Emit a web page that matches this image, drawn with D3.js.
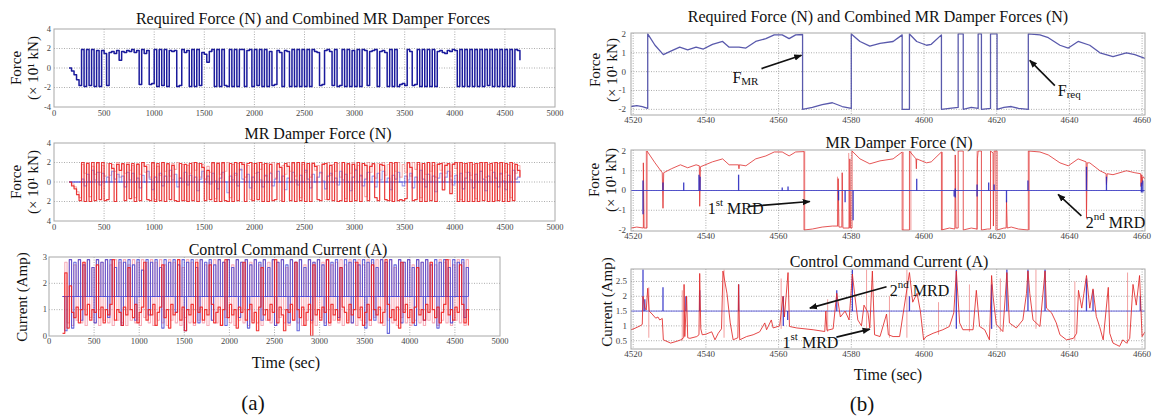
<!DOCTYPE html>
<html>
<head>
<meta charset="utf-8">
<title>MR damper forces and control current</title>
<script src="https://cdn.jsdelivr.net/npm/d3@7"></script>
<style>
  body { margin: 0; background: #fff; }
  svg, svg text { font-family: "Liberation Serif", "DejaVu Serif", serif; }
  svg text { fill: #111; }
  svg text.tick-label { fill: #444; }
</style>
</head>
<body>
<svg id="chart" width="1153" height="419" font-family="Liberation Serif, DejaVu Serif, serif"></svg>
<script>
// ---------- (a) whole record, one sample every 25 s from t = 150 s ----------
const aStart = 150, aStep = 25;
// required / combined force (x 10 kN)
const aForce = [
  0,-0.3,-0.7,-1.2,-1.8, 1.9,-1.9,1.9,-1.8,1.9, -1.9,1.8,-1.9,1.8,1.5, -1.8,1.6,1.7,1.5,1.8,
  0.8,1.7,1.6,1.8,1.7, 1.9,1.6,1.8,-1.7,1.9, 1.5,1.8,-1.7,-1.6,1.9, -1.9,1.9,-1.8,1.9,-1.9,
  1.8,1.7,1.8,-1.9,-1.8, 1.9,1.6,1.8,-1.9,1.9, -1.9,1.9,-1.8,1.6,1.4, 0.6,1.7,1.9,-1.9,1.9,
  -1.9,1.9,-1.8,-1.9,1.9, -1.9,1.9,-1.9,1.9,1.9, -1.9,1.8,1.9,-1.9,1.9, -1.8,1.9,-1.9,1.9,-1.9,
  1.7,-1.8,-1.7,1.8,1.6, -1.9,1.8,1.7,-1.9,1.9, -1.9,1.9,-1.9,1.9,-1.9, 1.9,-1.9,1.9,1.7,1.6,
  -1.8,-1.7,1.8,1.9,1.7, -1.8,1.9,-1.9,-1.8,1.9, -1.9,1.9,-1.9,1.8,-1.9, 1.9,-1.9,1.9,1.8,-1.8,
  1.7,1.8,1.9,-1.9,1.7, 1.8,1.6,-1.9,1.9,-1.9, 1.9,-1.9,-1.7,-1.6,-1.8, 1.9,1.7,-1.8,-1.7,1.9,
  -1.9,1.9,-1.9,1.9,-1.9, 1.9,-1.9,1.7,1.8,1.6, 1.5,1.8,1.7,1.9,1.8, -1.9,1.9,-1.9,1.9,-1.9,
  1.9,-1.9,1.9,-1.9,1.9, -1.9,1.9,-1.8,1.9,-1.9, 1.9,-1.9,1.9,-1.9,1.9, -1.9,1.9,-1.9,1.9,1.8,
  0.8
];
// MR damper forces: 1st damper (red), 2nd damper (light red), residual (blue)
const aMrd1 = [
  0,-0.4,-0.7,-1.3,-1.9, 2,-2,1.9,-2,2, -1.9,2,-1.8,2,-1.9, -1.8,1.9,1.4,-2,1.8,
  1.2,1.9,-1.9,1.8,-1.7, 1.9,-2,1.8,-1.9,2, 1.6,-1.8,-1.9,2,-2, 1.9,-1.9,2,-2,1.9,
  -1.8,1.7,-1.9,-2,1.9, -1.9,1.8,-2,1.9,-1.9, 2,-2,1.9,1.5,-1.9, 1.2,-1.8,2,-2,1.9,
  -2,2,-1.9,-2,1.9, -2,2,-1.9,2,1.8, -2,1.9,2,-1.9,1.9, -1.8,2,-2,1.9,-2,
  1.8,-1.9,-1.8,1.9,1.5, -2,1.9,1.6,-1.9,2, -2,2,-1.9,2,-2, 1.9,-2,1.9,1.6,-1.8,
  -1.9,1.8,1.9,-1.8,1.7, -1.9,2,-2,-1.9,2, -2,1.9,-2,1.8,-1.9, 2,-2,1.9,1.7,-1.9,
  1.6,1.9,-1.6,-1.9,1.8, 1.7,-1.8,-1.9,2,-2, 2,-1.9,-1.8,-1.9,-1.7, 2,1.5,-1.9,-1.8,2,
  -2,1.9,-2,2,-1.9, 2,-2,1.8,1.9,-0.8, 1.7,1.9,-1.2,1.8,2, -2,2,-2,1.9,-2,
  2,-2,1.9,-2,2, -1.9,2,-2,1.9,-2, 2,-1.9,2,-2,1.9, -2,2,-1.9,1.8,1.2,
  0.5
];
const aMrd2 = [
  0,-0.2,-0.5,-1.0,-1.6, 1.8,0.9,2,-1.5,1.6, 0.8,1.9,1.0,1.7,0.6, 1.9,0.7,1.8,1.1,2,
  0.5,1.8,0.9,2,1.2, 1.7,-1.6,1.9,0.8,2, 1.0,1.8,0.5,1.9,-1.8, 1.6,0.7,2,1.1,1.8,
  0.6,1.9,1.3,2,0.4, 1.8,-1.9,1.7,0.9,2, 1.2,1.9,0.5,1.8,0.3, 1.6,1.0,1.9,-1.7,2,
  0.8,1.9,1.1,2,-1.6, 1.8,0.7,1.9,1.2,2, 0.5,1.7,-1.8,1.9,0.9, 2,1.3,1.8,0.6,1.9,
  1.0,2,0.4,1.8,-1.9, 1.7,0.8,2,1.1,1.9, 0.6,2,-1.6,1.8,1.0, 1.9,0.5,2,1.2,1.7,
  0.9,1.9,-1.8,2,0.7, 1.8,1.1,1.9,0.5,2, -1.7,1.8,0.9,2,1.3, 1.7,0.6,1.9,-1.5,2,
  1.0,1.8,0.4,1.9,1.2, 2,0.7,1.8,-1.9,1.9, 1.1,2,0.5,1.8,1.0, 1.9,0.6,2,1.3,1.8,
  -1.6,1.9,0.8,2,1.1, 1.7,0.5,1.9,1.2,2, 0.9,1.8,0.6,1.9,1.4, 2,-1.8,1.9,1.0,2,
  0.7,1.8,-1.7,1.9,1.1, 2,0.5,1.8,1.2,2, -1.9,1.9,0.8,2,1.0, 1.8,-1.6,1.9,0.9,1.7,
  0.6
];
const aMrdBlue = [
  0,0,0,0,0, 0.3,-0.4,0.8,0,1.2, 0.2,1.0,-0.3,0.9,0, 0.5,0,1.1,0.3,0.8,
  0,0.6,-0.5,1.0,0.2, 0.9,0,0.4,-0.6,0.7, 0,1.1,0.3,-0.8,0.5, 0,0.9,-0.4,0.6,0,
  1.2,0.2,0.8,-0.5,0.4, 0,1.0,-0.3,0.7,0, 0.5,-0.9,0.3,1.1,0, 0.6,-0.2,0.9,0.1,-0.7,
  0.4,1.0,0,-1.1,0.6, 0.2,0.9,-0.4,1.3,0.3, 0,0.8,-0.6,0.5,0, 1.0,0.2,-0.5,0.7,0,
  0.9,-0.4,0.3,1.1,0, 0.6,-0.8,0.4,0,1.0, 0.2,-0.3,0.7,0,1.2, 0.3,-0.6,0.8,0,0.5,
  1.0,0.1,-0.7,0.6,0.9, 0,0.4,-0.3,1.1,0.2, 0.8,0,-0.9,0.5,1.2, 0,0.7,-0.4,0.3,1.0,
  0,0.6,-0.5,0.9,0.2, 1.1,0,0.4,-0.8,0.7, 0.3,1.0,0,-0.4,0.6, 0.2,0.9,-0.6,0.5,0,
  1.2,0.3,-0.5,0.8,0, 0.6,-1.0,0.4,0.9,0, 0.5,1.1,0.2,-0.3,0.7, 0,0.9,-0.7,0.4,1.0,
  0.2,-0.6,0.8,0,1.1, 0.3,-0.9,0.6,0,1.0, 0.4,-0.5,0.9,0.1,-0.8, 0.7,0,1.2,0.3,0.5,
  0.4
];
const aMrdBlueBase = 0;
// control command current (A)
const aCur1 = [
  0.1,2.4,0.3,1.9,0.9, 0.7,1.1,0.5,1.0,2.8, 0.8,1.2,0.6,1.0,0.9, 2.7,0.7,1.1,0.5,1.0,
  0.8,1.2,2.9,0.6,1.0, 0.9,0.4,1.1,0.8,2.6, 1.0,0.7,1.2,0.5,0.9, 1.1,2.8,0.6,1.0,0.8,
  1.2,0.4,0.9,1.1,2.7, 0.7,1.0,0.3,1.2,0.8, 0.9,2.9,0.6,1.1,0.2, 1.0,0.8,1.2,0.5,2.8,
  0.9,1.1,0.6,1.0,0.8, 2.7,1.2,0.5,0.9,1.1, 0.4,1.0,2.9,0.7,1.2, 0.8,1.0,0.3,1.1,0.9,
  2.8,0.6,1.0,1.2,0.5, 0.9,0.2,1.1,2.6,0.8, 1.0,0.6,1.2,0.9,2.9, 0.5,1.1,0.8,0.2,1.0,
  0.9,1.2,0.6,2.8,1.0, 0.7,1.1,0.4,0.9,1.2, 0.0,2.7,0.8,1.0,0.6, 1.1,0.9,2.9,0.5,1.2,
  0.8,1.0,0.6,2.6,1.1, 0.9,0.5,1.2,0.8,1.0, 2.8,0.7,1.1,0.4,0.9, 1.2,0.6,2.7,1.0,0.8,
  1.1,0.5,0.9,2.9,1.2, 0.7,1.0,0.6,1.1,0.3, 2.8,0.9,1.2,0.7,1.0, 0.5,1.1,2.6,0.8,1.0,
  0.6,1.2,0.9,2.8,1.0, 0.7,1.1,0.5,0.9,1.2, 2.9,0.8,1.0,0.6,1.1, 0.9,2.7,1.2,0.5,1.0,
  0.4
];
const aCur2 = [
  1.5,2.8,0.5,2.9,0.4, 2.7,0.6,2.9,0.5,2.8, 0.4,2.9,0.7,2.6,0.5, 2.9,0.4,2.8,0.6,2.9,
  0.5,2.7,0.4,2.9,0.6, 2.8,0.5,2.9,0.4,2.7, 0.6,2.9,0.5,2.8,0.4, 2.9,0.7,2.8,0.5,2.9,
  0.4,2.8,0.6,2.9,0.5, 2.7,0.4,2.9,0.6,2.8, 0.5,2.9,0.4,2.6,0.7, 2.9,0.5,2.8,0.4,2.9,
  0.6,2.9,0.5,2.7,0.4, 2.8,0.6,2.9,0.5,2.9, 0.4,2.8,0.7,2.9,0.5, 2.7,0.4,2.9,0.6,2.8,
  0.5,2.9,0.4,2.8,0.6, 2.9,0.5,2.7,0.4,2.9, 0.6,2.8,0.5,2.9,0.4, 2.8,0.7,2.9,0.5,2.6,
  0.4,2.9,0.6,2.8,0.5, 2.9,0.4,2.7,0.6,2.9, 0.5,2.8,0.4,2.9,0.7, 2.8,0.5,2.9,0.4,2.7,
  0.6,2.8,0.5,2.9,0.4, 2.7,0.6,2.9,0.5,2.8, 0.4,2.9,0.6,2.7,0.5, 2.9,0.4,2.8,0.7,2.9,
  0.5,2.9,0.4,2.8,0.6, 2.9,0.5,2.6,0.4,2.9, 0.7,2.8,0.5,2.9,0.4, 2.7,0.6,2.9,0.5,2.8,
  0.4,2.9,0.6,2.8,0.5, 2.7,0.4,2.9,0.6,2.8, 0.5,2.9,0.4,2.7,0.6, 2.9,0.5,2.8,0.4,2.9,
  0.6
];
const aCurBlue = [
  1.5,0.2,1.5,2.9,0.3, 2.8,1.5,2.9,0.6,2.7, 1.5,2.9,1.5,2.6,0.5, 2.9,1.5,2.8,1.5,2.9,
  0.7,2.9,1.5,2.6,1.5, 2.9,0.4,2.8,1.5,2.9, 1.5,2.7,0.6,2.9,1.5, 2.5,1.5,2.9,0.8,2.8,
  1.5,2.9,1.5,2.6,0.3, 2.9,1.5,2.8,1.5,2.9, 0.9,2.7,1.5,2.9,0.2, 2.8,1.5,2.9,1.5,2.6,
  0.5,2.9,1.5,2.8,1.5, 2.9,0.6,2.7,1.5,2.9, 1.5,2.8,0.4,2.9,1.5, 2.6,1.5,2.9,0.7,2.8,
  1.5,2.9,0.3,2.7,1.5, 2.9,1.5,2.8,0.6,2.9, 1.5,2.6,1.5,2.9,0.4, 2.8,1.5,2.9,1.5,2.7,
  0.5,2.9,1.5,2.8,0.2, 2.9,1.5,2.6,1.5,2.9, 0.6,2.8,1.5,2.9,1.5, 2.7,0.4,2.9,1.5,2.8,
  1.5,2.9,0.7,2.6,1.5, 2.9,1.5,2.8,0.5,2.9, 1.5,2.7,1.5,2.9,0.3, 2.8,1.5,2.9,0.6,2.6,
  1.5,2.9,1.5,2.8,0.1, 2.9,1.5,2.7,1.5,2.9, 0.5,2.8,1.5,2.9,1.5, 2.6,0.4,2.9,1.5,2.8,
  0.6,2.9,1.5,2.7,1.5, 2.9,0.3,2.8,1.5,2.9, 1.5,2.6,0.5,2.9,1.5, 2.8,1.5,2.9,0.7,2.6,
  1.5
];
const aCurBlueBase = 1.5;
const aTimeTicks = [0, 500, 1000, 1500, 2000, 2500, 3000, 3500, 4000, 4500, 5000];
const aForceTicks = [-4, -2, 0, 2, 4];
const aForceTopLabels = ["-4", "-2", "0", "2", "4"];
const aForceMidLabels = ["4", "2", "0", "2", "4"];
const aCurTicks = [0, 1, 2, 3];

// ---------- (b) close-up, 4520-4660 s ----------
// [time, force]
const bForce = [
  [4519.4,-1.85],[4521,-1.8],[4522.5,-1.85],[4524,-1.95],[4524,2.0],[4526,1.4],[4528.3,0.9],
  [4530.5,1.1],[4532.8,1.3],[4535,1.15],[4537.3,1.3],[4539.3,1.2],[4541.8,1.45],[4544.6,1.6],
  [4546.4,1.3],[4549.1,1.3],[4551,1.25],[4553.7,1.6],[4556.5,1.75],[4558.8,1.95],[4561,1.95],
  [4562.9,1.75],[4564.7,1.95],[4566.6,1.97],[4566.6,-2.0],[4569.3,-1.9],[4572,-1.75],
  [4574.8,-1.65],[4577.5,-1.85],[4580,-1.95],[4580,2.0],[4582.4,1.6],[4585.1,1.35],
  [4587.9,1.5],[4591.5,1.6],[4594,1.95],[4594,-2.0],[4596,-2.0],[4596,2.0],[4598,1.6],
  [4600.7,1.4],[4602,1.45],[4604.8,1.95],[4604.8,-2.0],[4607,-1.95],[4609.4,-1.9],
  [4609.4,2.0],[4610.8,2.0],[4610.8,-2.0],[4613,-1.9],[4614.9,-1.95],[4614.9,2.0],
  [4615.8,2.0],[4615.8,-2.0],[4618.3,-1.95],[4618.3,2.0],[4620.1,2.0],[4620.1,-2.0],
  [4622,-1.9],[4624,-1.85],[4626,-1.95],[4628.7,-2.0],[4628.7,2.0],[4631.9,1.95],
  [4634.2,1.8],[4637.4,1.4],[4639.7,1.25],[4642.4,1.6],[4645.6,1.4],[4648.4,1.0],
  [4652,0.8],[4655.7,1.0],[4658,0.9],[4660.8,0.7]
];
// 1st MRD force [time, force]
const bMrd1 = [
  [4519.4,-1.9],[4521,-1.85],[4522.8,-1.9],[4522.8,1.4],[4523,-1.9],[4523.8,-1.9],[4523.8,2.0],
  [4526,1.4],[4528,0.9],[4528.2,-0.9],[4528.4,0.9],[4530.5,1.1],[4533,1.3],[4535,1.15],
  [4537.3,1.3],[4538.2,1.25],[4538.3,-0.8],[4538.5,1.2],[4541.8,1.45],[4544.6,1.6],
  [4546.4,1.3],[4549,1.3],[4549.1,1.1],[4549.2,1.3],[4551,1.25],[4553.7,1.6],[4556.5,1.75],
  [4558.8,1.95],[4561,1.95],[4562.9,1.75],[4564.7,1.95],[4567,1.97],[4567,-2.0],
  [4569.3,-1.95],[4572,-1.85],[4574.8,-1.8],[4576.3,-1.8],[4576.4,0.6],[4576.6,-1.85],
  [4577.4,-1.85],[4577.5,0.9],[4577.7,-1.9],[4579.5,-1.9],[4579.6,1.6],[4579.8,-1.9],
  [4580.2,-1.9],[4580.2,2.0],[4582.4,1.6],[4585.1,1.35],[4587.9,1.5],[4591.5,1.6],
  [4594,1.95],[4594,-2.0],[4596,-2.0],[4596,2.0],[4597.8,1.6],[4597.9,1.1],[4598,1.6],
  [4600.7,1.4],[4602,1.45],[4604.8,1.95],[4604.8,-2.0],[4607,-1.9],[4608.5,-1.95],
  [4608.6,1.8],[4608.8,-1.9],[4609.4,-1.9],[4609.4,2.0],[4610.8,2.0],[4610.8,-2.0],
  [4613,-1.9],[4614.6,-1.95],[4614.7,1.6],[4614.9,2.0],[4615.8,2.0],[4615.8,-2.0],
  [4617.5,-1.95],[4618.3,-1.95],[4618.3,2.0],[4619,1.9],[4619.1,-1.8],[4619.3,2.0],
  [4620.1,2.0],[4620.1,-2.0],[4622,-1.9],[4622.6,-1.9],[4622.7,-0.5],[4622.9,-1.9],
  [4624,-1.85],[4626,-1.95],[4628.7,-2.0],[4628.7,2.0],[4631.9,1.95],[4634.2,1.8],
  [4637.4,1.4],[4639.7,1.25],[4642.4,1.6],[4644.6,1.45],[4644.7,-1.4],[4644.9,1.4],
  [4645.6,1.4],[4648.4,1.0],[4650.1,0.85],[4650.2,0.3],[4650.4,0.85],[4652,0.8],
  [4655.7,1.0],[4658,0.9],[4659.6,0.85],[4659.7,0.2],[4659.9,0.8],[4660,0.3],[4660.2,0.7],
  [4660.8,0.6]
];
// 2nd MRD switching lines [time, low, high]
const bMrd2 = [
  [4523.6,-1.9,2.0],[4567.2,-2.0,2.0],[4576.2,-1.8,0.7],[4579.3,-1.9,1.9],[4594.3,-2.0,1.95],
  [4596.4,-2.0,2.0],[4605.1,-2.0,1.95],[4614.6,-2.0,2.0],[4619.7,-2.0,2.0],[4629,-2.0,2.0]
];
// residual force (blue) [time, low, high] on a zero base
const bMrdBlue = [
  [4522.7,-1.2,0.5],[4528.2,0,0.4],[4533.9,0,0.4],[4538.1,0,0.8],[4538.4,0,0.7],[4549,0,0.8],
  [4561,0,0.15],[4562.6,0,0.2],[4576.5,-0.5,0],[4578.3,-0.6,0],[4580.5,-1.5,0],[4598,0,0.6],
  [4608.3,-0.3,0],[4608.6,-0.35,0.1],[4614.6,-0.3,0.3],[4617.8,0,0.4],[4619.3,0,0.3],
  [4622.7,-0.6,0],[4628.6,0,0.5],[4644.7,0,1.2],[4650.2,0,0.7],[4659.8,-0.1,0.4],[4660.2,-0.1,0.5]
];
const bMrdBlueBase = 0;
// 1st MRD current [time, amp]
const bCur1 = [
  [4519.4,0.87],[4520.5,0.92],[4521.9,1.0],[4522.5,1.05],[4522.7,2.0],[4523.2,1.6],[4523.6,1.54],
  [4524,2.27],[4524.4,1.5],[4525.2,1.4],[4526.2,1.26],[4526.8,1.3],[4527.3,1.2],[4528,1.25],
  [4528.3,0.53],[4530.3,0.42],[4532,0.48],[4533.1,0.53],[4533.9,0.6],[4534,2.4],[4534.2,0.64],
  [4534.7,2.0],[4535,0.6],[4535.6,0.58],[4537.5,0.64],[4538.1,0.7],[4538.3,2.77],[4538.6,0.9],
  [4539,0.7],[4540,0.72],[4541.6,0.8],[4542.5,0.53],[4543.4,0.75],[4544.3,0.9],[4544.7,2.85],
  [4545.8,2.1],[4546.7,1.1],[4547.5,0.53],[4548.8,0.6],[4549,2.4],[4549.3,0.53],[4551.2,0.64],
  [4553,0.7],[4554.8,0.8],[4556.2,1.1],[4556.7,0.87],[4558,1.2],[4558.5,0.93],[4560.3,1.0],
  [4561.2,2.0],[4561.6,1.3],[4562.6,2.8],[4563,0.98],[4565,0.93],[4569.5,0.87],[4572.7,0.81],
  [4573,1.5],[4573.3,0.85],[4575,0.9],[4576,2.1],[4577,1.3],[4578.3,1.5],[4579.4,1.2],
  [4580.3,2.75],[4580.9,2.1],[4581.8,1.2],[4582.8,1.0],[4583.5,1.7],[4584.6,1.44],[4585.1,0.93],
  [4585.8,2.85],[4586.4,0.7],[4587.9,0.64],[4589.7,1.4],[4590.2,0.7],[4591.5,0.64],[4593.3,0.64],
  [4596,2.8],[4596.9,1.8],[4598.1,2.1],[4599,1.5],[4599.9,0.53],[4600.6,0.64],[4602.5,0.75],
  [4605.2,0.87],[4607,0.98],[4608.2,1.44],[4608.9,2.85],[4609.8,1.1],[4610.7,0.87],[4613.5,0.87],
  [4614.4,2.2],[4615.3,0.98],[4616.7,0.87],[4618,0.53],[4618.6,2.7],[4619,2.0],[4619.9,1.05],
  [4621.7,0.81],[4622.8,2.8],[4623.5,1.1],[4625.4,0.93],[4627.2,1.2],[4628.2,2.1],[4628.6,2.85],
  [4629.1,2.1],[4630,1.2],[4631.9,0.98],[4633.3,2.85],[4633.7,1.6],[4635.1,1.44],[4636.4,1.1],
  [4637.4,0.7],[4639.2,0.53],[4641.1,0.58],[4642,0.75],[4642.5,2.2],[4643.4,1.6],[4644,2.1],
  [4644.7,2.7],[4645.6,1.6],[4646.5,2.25],[4647.4,1.32],[4648.3,0.98],[4649.3,0.53],[4650.7,2.3],
  [4651.1,0.75],[4652,0.42],[4653.8,0.31],[4654.7,0.53],[4655.7,0.42],[4656.6,0.58],[4657.5,2.4],
  [4658.4,1.7],[4659.3,2.7],[4660,0.64],[4660.8,0.8]
];
// 2nd MRD current switching lines [time, low, high]
const bCur2 = [
  [4524.3,0.6,2.3],[4533.5,0.5,2.2],[4545,0.6,2.9],[4560.7,0.9,2.6],[4573.5,0.8,1.9],
  [4584.2,0.9,2.9],[4590.5,0.6,2.0],[4595.3,0.6,2.9],[4604,0.7,1.8],[4612.5,0.8,2.4],
  [4621,0.8,2.6],[4630.8,0.9,2.9],[4641.5,0.5,2.5],[4656,0.4,2.8]
];
// residual current (blue) [time, low, high] on a 1.5 A base
const bCurBlue = [
  [4522.7,1.5,2.9],[4523.2,1.5,1.9],[4528.2,1.5,2.3],[4534.5,1.5,2.0],[4538.3,1.5,2.2],
  [4549,1.5,2.4],[4561.3,1.0,2.0],[4562.5,1.2,1.5],[4576,1.5,2.2],[4580.3,1.5,2.9],
  [4596,1.5,2.0],[4608.9,0.9,2.9],[4618.6,0.9,2.4],[4622.8,1.5,2.9],[4628.6,1.5,2.9],
  [4633.3,1.5,2.9],[4644.7,1.5,2.6],[4646.5,1.5,2.2],[4659.5,1.5,2.0]
];
const bCurBlueBase = 1.5;
const bTimeTicks = [4520, 4540, 4560, 4580, 4600, 4620, 4640, 4660];
const bForceTicks = [-2, -1, 0, 1, 2];
const bCurTicks = [0.5, 1, 1.5, 2, 2.5];

// ---------- drawing ----------
const svg = d3.select("#chart");
const defs = svg.append("defs");
defs.append("marker")
  .attr("id", "arrow")
  .attr("viewBox", "0 0 10 10")
  .attr("refX", 9).attr("refY", 5)
  .attr("markerWidth", 8).attr("markerHeight", 8)
  .attr("markerUnits", "userSpaceOnUse")
  .attr("orient", "auto")
  .append("path").attr("d", "M0,1L10,5L0,9z").attr("fill", "#111");

let clipCount = 0;
function panel(box, xDom, yDom, xTicks, yTicks, yLabels, fs, xPad, yPad) {
  const x = d3.scaleLinear().domain(xDom).range([box.x0, box.x1]);
  const y = d3.scaleLinear().domain(yDom).range([box.y1, box.y0]);
  const g = svg.append("g");
  const id = "clip" + (clipCount++);
  defs.append("clipPath").attr("id", id).append("rect")
    .attr("x", box.x0).attr("y", box.y0)
    .attr("width", box.x1 - box.x0).attr("height", box.y1 - box.y0);

  // dotted grid
  g.selectAll(".vg")
    .data(xTicks.filter(t => x(t) > box.x0 + 1 && x(t) < box.x1 - 1))
    .join("line")
      .attr("x1", d => x(d)).attr("x2", d => x(d))
      .attr("y1", box.y0).attr("y2", box.y1)
      .attr("stroke", "#8a8a8a").attr("stroke-width", 0.7).attr("stroke-dasharray", "1,1.5");
  g.selectAll(".hg")
    .data(yTicks.filter(t => y(t) > box.y0 + 1 && y(t) < box.y1 - 1))
    .join("line")
      .attr("x1", box.x0).attr("x2", box.x1)
      .attr("y1", d => y(d)).attr("y2", d => y(d))
      .attr("stroke", "#8a8a8a").attr("stroke-width", 0.7).attr("stroke-dasharray", "1,1.5");

  // tick labels
  g.selectAll(".xl").data(xTicks).join("text")
    .attr("class", "tick-label")
    .attr("x", d => x(d)).attr("y", box.y1 + xPad)
    .attr("dy", "0.71em").attr("text-anchor", "middle")
    .style("font-size", fs + "px")
    .text(d => d);
  g.selectAll(".yl").data(yTicks).join("text")
    .attr("class", "tick-label")
    .attr("x", box.x0 - yPad).attr("y", d => y(d))
    .attr("dy", "0.32em").attr("text-anchor", "end")
    .style("font-size", fs + "px")
    .text((d, i) => yLabels[i]);

  const plot = g.append("g").attr("clip-path", `url(#${id})`);
  return { x, y, g, plot, box };
}

function frame(p) {
  p.g.append("rect")
    .attr("x", p.box.x0).attr("y", p.box.y0)
    .attr("width", p.box.x1 - p.box.x0).attr("height", p.box.y1 - p.box.y0)
    .attr("fill", "none").attr("stroke", "#a8a8a8").attr("stroke-width", 1);
}

function drawLine(p, pts, color, width, opacity, curve) {
  p.plot.append("path").datum(pts)
    .attr("d", d3.line().curve(curve || d3.curveLinear).x(d => p.x(d[0])).y(d => p.y(d[1])))
    .attr("fill", "none").attr("stroke", color)
    .attr("stroke-width", width).attr("stroke-opacity", opacity)
    .attr("stroke-linejoin", "round");
}

function drawSpikes(p, rows, color, width, opacity) {
  p.plot.append("g").selectAll("line").data(rows).join("line")
    .attr("x1", d => p.x(d[0])).attr("x2", d => p.x(d[0]))
    .attr("y1", d => p.y(d[1])).attr("y2", d => p.y(d[2]))
    .attr("stroke", color).attr("stroke-width", width).attr("stroke-opacity", opacity);
}

const aTime = aForce.map((d, i) => aStart + i * aStep);
const aPts = vals => vals.map((v, i) => [aTime[i], v]);
const aEnds = [aTime[0], aTime[aTime.length - 1]];
const step = d3.curveStepAfter;

function title(txt, x, y) {
  svg.append("text").attr("x", x).attr("y", y).attr("text-anchor", "middle")
    .style("font-size", "16px").text(txt);
}
function yTitle(lines, x, y) {
  lines.forEach(l => {
    svg.append("text")
      .attr("transform", `translate(${l.dx + x},${y}) rotate(-90)`)
      .attr("text-anchor", "middle").attr("dominant-baseline", "central")
      .style("font-size", "15px").text(l.t);
  });
}
const forceLabel = [{ t: "Force", dx: 0 }, { t: "(\u00d7 10\u00b9 kN)", dx: 17 }];

// (a) top: required / combined force
const pA1 = panel({ x0: 54, x1: 555, y0: 29, y1: 107 }, [0, 5000], [-4, 4],
  aTimeTicks, aForceTicks, aForceTopLabels, 8.5, 3, 3);
drawLine(pA1, aPts(aForce), "#1b1b9c", 1.5, 1, step);
frame(pA1);
title("Required Force (N) and Combined MR Damper Forces", 313, 24);
yTitle(forceLabel, 16, 68);

// (a) middle: damper forces
const pA2 = panel({ x0: 54, x1: 555, y0: 143, y1: 221 }, [0, 5000], [-4, 4],
  aTimeTicks, aForceTicks, aForceMidLabels, 8.5, 3, 3);
drawLine(pA2, aPts(aMrd2), "#f07a7a", 1.1, 0.6, step);
drawLine(pA2, aEnds.map(t => [t, aMrdBlueBase]), "#3a3ad8", 1, 0.9);
drawLine(pA2, aPts(aMrdBlue), "#5a5ae0", 1.1, 0.6, step);
drawLine(pA2, aPts(aMrd1), "#e81a1a", 1.2, 0.85, step);
frame(pA2);
title("MR Damper Force (N)", 318, 139);
yTitle(forceLabel, 16, 182);

// (a) bottom: control current
const pA3 = panel({ x0: 49, x1: 500, y0: 257, y1: 336 }, [0, 5000], [0, 3],
  aTimeTicks, aCurTicks, aCurTicks.map(String), 8.5, 2, 2);
drawLine(pA3, aPts(aCur2), "#f06a80", 1.1, 0.55, step);
drawLine(pA3, aPts(aCurBlue), "#3535d0", 1.1, 0.75, step);
drawLine(pA3, aEnds.map(t => [t, aCurBlueBase]), "#4a4ad8", 1, 0.8);
drawLine(pA3, aPts(aCur1), "#ee1c1c", 1.2, 0.85, step);
frame(pA3);
title("Control Command Current (A)", 288, 255);
yTitle([{ t: "Current (Amp)", dx: 0 }], 22, 297);
svg.append("text").attr("x", 286).attr("y", 368).attr("text-anchor", "middle")
  .style("font-size", "16px").text("Time (sec)");
svg.append("text").attr("x", 253).attr("y", 410).attr("text-anchor", "middle")
  .style("font-size", "21px").text("(a)");

// (b) close-up panels
const bDom = [4519.4, 4660.8];
const bBox = { x0: 631, x1: 1145 };

const pB1 = panel({ ...bBox, y0: 33, y1: 115 }, bDom, [-2.3, 2.05],
  bTimeTicks, bForceTicks, bForceTicks.map(String), 9, 2, 5);
drawLine(pB1, bForce, "#5050a8", 1.3, 0.95);
frame(pB1);
title("Required Force (N) and Combined MR Damper Forces (N)", 878, 22);
yTitle(forceLabel, 595, 70);

const pB2 = panel({ ...bBox, y0: 150, y1: 231 }, bDom, [-2.05, 2.05],
  bTimeTicks, bForceTicks, bForceTicks.map(String), 9, 2, 5);
drawSpikes(pB2, bMrd2, "#f08888", 1, 0.9);
drawLine(pB2, bMrd1, "#e03838", 1, 0.85);
drawLine(pB2, bDom.map(t => [t, bMrdBlueBase]), "#4545c8", 1, 0.9);
drawSpikes(pB2, bMrdBlue, "#2a2ac0", 1.3, 0.9);
frame(pB2);
title("MR Damper Force (N)", 899, 148);
yTitle(forceLabel, 594, 180);

const pB3 = panel({ ...bBox, y0: 269, y1: 349 }, bDom, [0.22, 2.92],
  bTimeTicks, bCurTicks, bCurTicks.map(String), 9, 2, 4);
drawSpikes(pB3, bCur2, "#f09090", 1, 0.85);
drawLine(pB3, bDom.map(t => [t, bCurBlueBase]), "#5050d8", 1, 0.85);
drawSpikes(pB3, bCurBlue, "#3030c8", 1.3, 0.9);
drawLine(pB3, bCur1, "#e02828", 1, 0.85);
frame(pB3);
title("Control Command Current (A)", 889, 267);
yTitle([{ t: "Current (Amp)", dx: 0 }], 607, 302);
svg.append("text").attr("x", 888).attr("y", 380).attr("text-anchor", "middle")
  .style("font-size", "16px").text("Time (sec)");
svg.append("text").attr("x", 862).attr("y", 411).attr("text-anchor", "middle")
  .style("font-size", "21px").text("(b)");

// annotations, placed in data coordinates of their panel
function arrow(p, from, to) {
  svg.append("line")
    .attr("x1", p.x(from[0])).attr("y1", p.y(from[1]))
    .attr("x2", p.x(to[0])).attr("y2", p.y(to[1]))
    .attr("stroke", "#111").attr("stroke-width", 1.6)
    .attr("marker-end", "url(#arrow)");
}
function label(p, at, main, small, isSub) {
  const t = svg.append("text").attr("x", p.x(at[0])).attr("y", p.y(at[1]))
    .attr("dominant-baseline", "central").style("font-size", "16px");
  if (isSub) {
    t.append("tspan").text(main);
    t.append("tspan").attr("dy", 4).style("font-size", "11px").text(small);
  } else {
    t.append("tspan").text(main);
    t.append("tspan").attr("dy", -6).style("font-size", "11px").text(small);
    t.append("tspan").attr("dy", 6).text(" MRD");
  }
}
arrow(pB1, [4555.3, 0.16], [4566.3, 0.87]);
label(pB1, [4547.3, -0.3], "F", "MR", true);
arrow(pB1, [4636, -0.74], [4629.1, 0.6]);
label(pB1, [4636.8, -1.0], "F", "req", true);

arrow(pB2, [4551.5, -0.81], [4568.6, -0.56]);
label(pB2, [4540.5, -0.91], "1", "st", false);
arrow(pB2, [4643.3, -1.28], [4636.9, -0.2]);
label(pB2, [4644.5, -1.57], "2", "nd", false);

arrow(pB3, [4589.7, 2.32], [4568.6, 1.6]);
label(pB3, [4590.6, 2.21], "2", "nd", false);
arrow(pB3, [4575.9, 0.62], [4585.1, 0.89]);
label(pB3, [4561.1, 0.47], "1", "st", false);
</script>
</body>
</html>
